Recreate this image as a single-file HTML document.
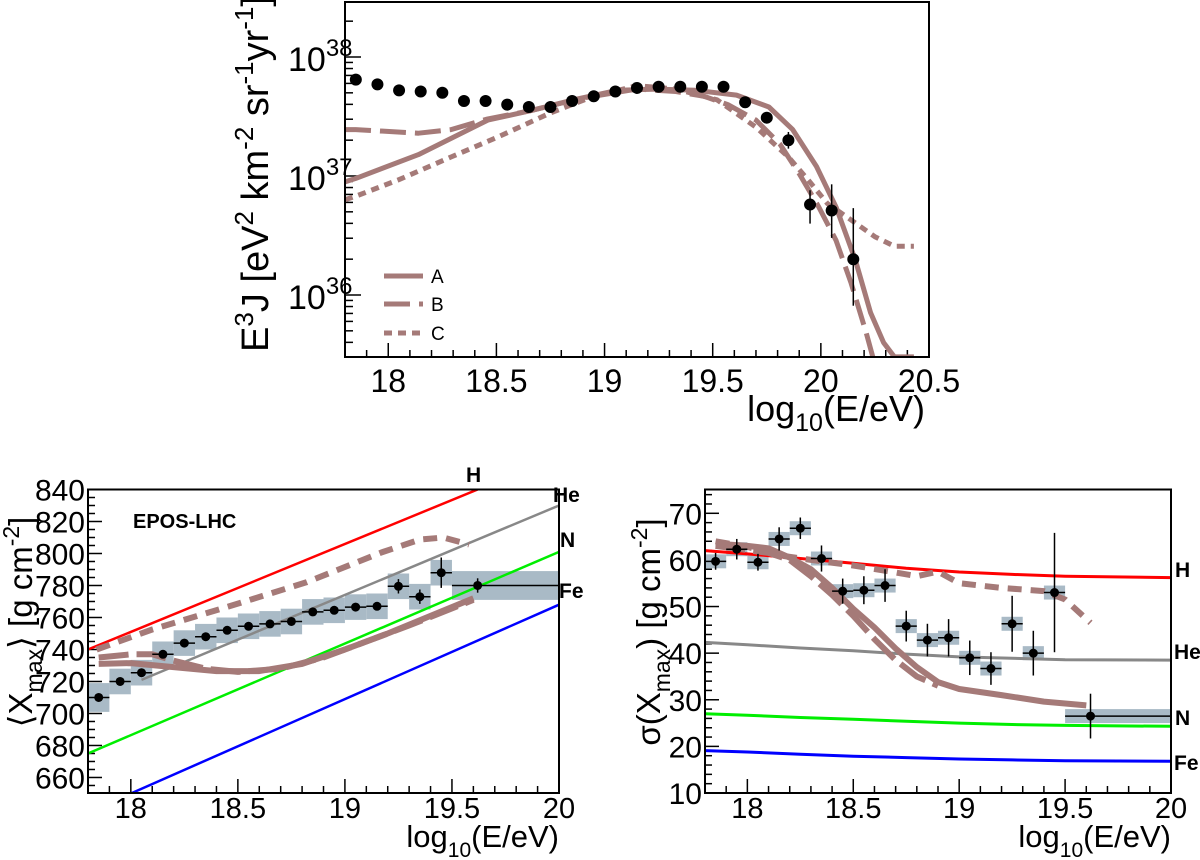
<!DOCTYPE html>
<html><head><meta charset="utf-8">
<style>
html,body{margin:0;padding:0;background:#fff;}
svg{display:block;font-family:"Liberation Sans",Arial,sans-serif;}
</style></head>
<body>
<svg id="fig" width="1200" height="860" viewBox="0 0 1200 860" xmlns="http://www.w3.org/2000/svg"></svg>
<script>
// ===== Top: spectrum data =====
const specE = [17.85,17.95,18.05,18.15,18.25,18.35,18.45,18.55,18.65,18.75,18.85,18.95,19.05,19.15,19.25,19.35,19.45,19.55,19.65,19.75,19.85,19.95,20.05,20.15];
const specLog = [37.81,37.77,37.72,37.71,37.70,37.63,37.63,37.60,37.58,37.58,37.63,37.67,37.71,37.74,37.75,37.75,37.75,37.75,37.62,37.49,37.30,36.76,36.71,36.30];
const specErrHi = [0,0,0,0,0,0,0,0,0,0,0,0,0,0,0,0,0,0,0,0,0.07,0.12,0.22,0.43];
const specErrLo = [0,0,0,0,0,0,0,0,0,0,0,0,0,0,0,0,0,0,0,0,0.07,0.16,0.23,0.39];
const modAE = [17.80,17.85,18.14,18.46,18.66,18.88,19.06,19.24,19.42,19.61,19.76,19.87,19.98,20.07,20.16,20.23,20.29,20.34,20.43];
const modAL = [36.95,36.98,37.18,37.47,37.55,37.65,37.72,37.73,37.72,37.68,37.58,37.39,37.08,36.74,36.29,35.85,35.60,35.48,35.48];
const modBE = [17.80,17.85,18.14,18.29,18.46,18.66,18.88,19.15,19.33,19.46,19.57,19.70,19.81,19.90,19.99,20.07,20.14,20.21,20.24];
const modBL = [37.39,37.39,37.36,37.39,37.48,37.55,37.65,37.73,37.71,37.67,37.60,37.47,37.27,37.02,36.74,36.46,36.10,35.68,35.48];
const modCE = [17.80,17.85,18.05,18.29,18.51,18.75,18.95,19.15,19.33,19.52,19.70,19.85,19.94,20.03,20.14,20.25,20.34,20.43];
const modCL = [36.80,36.83,36.97,37.16,37.33,37.53,37.67,37.76,37.73,37.64,37.41,37.16,36.97,36.77,36.63,36.49,36.41,36.41];
const topYTicks = [36,37,38];
const topXTicks = [18,18.5,19,19.5,20,20.5];

// ===== Bottom-left: <Xmax> =====
const xmE = [17.85,17.95,18.05,18.15,18.25,18.35,18.45,18.55,18.65,18.75,18.85,18.95,19.05,19.15,19.25,19.35,19.45,19.62];
const xmV = [710,720,725.5,737,744,748,752,754.5,756,757.5,763.5,764.5,766.5,767,779.5,773,788,780];
const xmErr = [2,2,2,2,2,2,2,2,2,2,2,2,2.5,2.5,4.5,4.5,9.5,4.5];
const xmSys = [9,8,8,8,8,8,8,8,8,8,8,8,8,8,8,8,8,9];
const xmH = [[17.8,740],[19.62,840]];
const xmHe = [[18.05,721],[20,830]];
const xmN = [[17.8,675],[20,801]];
const xmFe = [[18.0,650],[20,768]];
const xmAE = [17.85,18.0,18.2,18.4,18.6,18.8,19.0,19.2,19.4,19.6];
const xmAV = [731,731.5,729,726.5,726.5,731,740,750,761,772];
const xmBE = [17.85,18.0,18.1,18.2,18.35,18.5,18.7,18.9,19.1,19.3,19.6];
const xmBV = [735,737,737,733,728,726,728,735,745,755,771];
const xmCE = [17.84,18.10,18.46,18.82,19.17,19.35,19.46,19.58];
const xmCV = [740,752.5,767,782,800.6,808.7,810,805.6];
const xmYTicks = [660,680,700,720,740,760,780,800,820,840];
const botXTicks = [18,18.5,19,19.5,20];

// ===== Bottom-right: sigma(Xmax) =====
const sgE = [17.85,17.95,18.05,18.15,18.25,18.35,18.45,18.55,18.65,18.75,18.85,18.95,19.05,19.15,19.25,19.35,19.45,19.62];
const sgV = [59.7,62.3,59.5,64.5,66.8,60.3,53.3,53.5,54.5,45.8,42.8,43.3,39,36.7,46.3,40,53,26.5];
const sgErr = [1.8,2.2,1.8,2.5,2.3,2.8,2.7,3,3.5,3.3,3.5,4,3.7,3.5,6,4.8,12.8,4.8];
const sgSys = [1.5,1.5,1.5,1.5,1.5,1.5,1.5,1.5,1.5,1.5,1.5,1.5,1.5,1.5,1.5,1.5,1.5,1.5];
const sgGridE = [17.8,18.0,18.25,18.5,18.75,19.0,19.25,19.5,20.0];
const sgH = [62,61.3,60.3,59.3,58.2,57.4,56.9,56.5,56.2];
const sgHe = [42.3,41.8,41.1,40.5,39.8,39.2,38.9,38.6,38.5];
const sgN = [27,26.7,26.2,25.8,25.4,25,24.7,24.5,24.3];
const sgFe = [19.1,18.8,18.3,17.9,17.6,17.3,17.1,16.9,16.8];
const sgAE = [17.85,18.0,18.1,18.2,18.3,18.4,18.5,18.6,18.7,18.8,18.9,19.0,19.2,19.4,19.6];
const sgAV = [63.5,63,62.5,60.5,58,54,49.5,45.5,41,37,33.8,32.3,31,29.6,28.8];
const sgBE = [17.85,18.1,18.2,18.3,18.4,18.5,18.6,18.7,18.8,18.9];
const sgBV = [63,61.5,60,56.5,52.5,48,43,38.5,35,33];
const sgCE = [17.85,18.0,18.15,18.3,18.5,18.7,18.8,18.9,19.0,19.2,19.4,19.5,19.62];
const sgCV = [64,62.8,61,60,58.8,57.3,56.5,57.5,55,54,53.3,51.5,46.5];
const sgYTicks = [10,20,30,40,50,60,70];

const NS = "http://www.w3.org/2000/svg";
const svg = document.getElementById('fig');
const MODEL = "#a57a78";
function mk(tag, attrs, parent){
  const el = document.createElementNS(NS, tag);
  for (const k in attrs) el.setAttribute(k, attrs[k]);
  (parent||svg).appendChild(el);
  return el;
}
function lin(d0,d1,p0,p1){ return v => p0 + (v-d0)/(d1-d0)*(p1-p0); }
function pathD(xs, ys, fx, fy){ return xs.map((x,i)=>(i?'L':'M')+fx(x).toFixed(1)+','+fy(ys[i]).toFixed(1)).join(''); }

function frame(name, x0,y0,x1,y1){
  const r = mk('rect',{x:x0,y:y0,width:x1-x0,height:y1-y0,fill:'none',stroke:'#000','stroke-width':2});
  
  
}
function clip(id,x0,y0,x1,y1){
  const c = mk('clipPath',{id:id});
  mk('rect',{x:x0,y:y0,width:x1-x0,height:y1-y0},c);
}
function xTicks(fx, y1, lo, hi, major, minorStep, labels, fs, ly, name){
  const g = mk('g',{});
  
  
  for (let v = lo; v <= hi+1e-9; v += minorStep){
    const isMaj = major.some(m=>Math.abs(m-v)<1e-6);
    mk('line',{x1:fx(v),x2:fx(v),y1:y1,y2:y1-(isMaj?14:7),stroke:'#000','stroke-width':1.5},g);
  }
  major.forEach(m=>{
    const t = mk('text',{x:fx(m),y:ly,'font-size':fs,'text-anchor':'middle'},g);
    t.textContent = String(m);
  });
}
function curve(name, xs, ys, fx, fy, w, dash, color, clipId){
  const p = mk('path',{d:pathD(xs,ys,fx,fy),fill:'none',stroke:color,'stroke-width':w,'stroke-linejoin':'round','stroke-dasharray':dash||'none','clip-path':clipId?`url(#${clipId})`:''});
  
  
}

// ================= TOP PANEL =================
{
  const X0=345,X1=929,Y0=2,Y1=357;
  const fx = lin(17.8,20.5,X0,X1);
  const fy = v => 57 + (38 - v)*119;
  clip('ctop',X0,Y0,X1,Y1);
  const g = mk('g',{});
  
  
  for (let d=35; d<=38; d++){
    for (let k=1;k<=9;k++){
      const v = d + Math.log10(k);
      const y = fy(v);
      if (y<Y0||y>Y1) continue;
      mk('line',{x1:X0,x2:X0+(k===1?16:8),y1:y,y2:y,stroke:'#000','stroke-width':1.5},g);
    }
  }
  topYTicks.forEach(t=>{
    const tx = mk('text',{x:288,y:fy(t)+14,'font-size':34},g);
    tx.textContent='10';
    const sp = mk('tspan',{dy:-15,'font-size':24},tx);
    sp.textContent = String(t);
  });
  xTicks(fx,Y1,17.8,20.5,topXTicks,0.1,null,32,392,'top-x-axis');
  const yt = mk('text',{x:0,y:0,'font-size':38,'text-anchor':'middle',transform:'translate(268,174) rotate(-90)'});
  
  
  yt.innerHTML = 'E<tspan dy="-15" font-size="26">3</tspan><tspan dy="15">J [eV</tspan><tspan dy="-15" font-size="26">2</tspan><tspan dy="15"> km</tspan><tspan dy="-15" font-size="26">-2</tspan><tspan dy="15"> sr</tspan><tspan dy="-15" font-size="26">-1</tspan><tspan dy="15">yr</tspan><tspan dy="-15" font-size="26">-1</tspan><tspan dy="15">]</tspan>';
  const xt = mk('text',{x:925,y:421,'font-size':36,'text-anchor':'end'});
  
  
  xt.innerHTML = 'log<tspan dy="10" font-size="25">10</tspan><tspan dy="-10">(E/eV)</tspan>';
  curve('model-a-spectrum',modAE,modAL,fx,fy,5,null,MODEL,'ctop');
  curve('model-b-spectrum',modBE,modBL,fx,fy,5,'26 9',MODEL,'ctop');
  curve('model-c-spectrum',modCE,modCL,fx,fy,5,'8 6',MODEL,'ctop');
  specE.forEach((e,i)=>{
    if (specErrHi[i]>0){
      const l = mk('line',{x1:fx(e),x2:fx(e),y1:fy(specLog[i]+specErrHi[i]),y2:fy(specLog[i]-specErrLo[i]),stroke:'#000','stroke-width':1.5});
      
      
    }
    const c = mk('circle',{cx:fx(e),cy:fy(specLog[i]),r:6,fill:'#000'});
    
    
  });
  frame('top-plot-frame',X0,Y0,X1,Y1);
  const lg = mk('g',{});
  
  
  [['A','none',276],['B','26 9',304],['C','8 6',333]].forEach(([lab,da,y])=>{
    mk('line',{x1:384,x2:423,y1:y,y2:y,stroke:MODEL,'stroke-width':5,'stroke-dasharray':da},lg);
    const t = mk('text',{x:431,y:y+7,'font-size':19},lg);
    t.textContent = lab;
  });
}

// ================= BOTTOM LEFT =================
{
  const X0=88,X1=559,Y0=489.5,Y1=793;
  const fx = lin(17.8,20,X0,X1);
  const fy = lin(840,650.3,Y0,Y1);
  clip('cbl',X0,Y0,X1,Y1);
  const g = mk('g',{});
  
  
  for (let v=655; v<=840; v+=5){
    const maj = v%20===0;
    mk('line',{x1:X0,x2:X0+(maj?14:7),y1:fy(v),y2:fy(v),stroke:'#000','stroke-width':1.5},g);
  }
  xmYTicks.forEach(t=>{ const tx=mk('text',{x:X0-3,y:fy(t)+11,'font-size':30,'text-anchor':'end'},g); tx.textContent=String(t); });
  xTicks(fx,Y1,17.8,20,botXTicks,0.1,null,29,818,'xmax-x-axis');
  const yt = mk('text',{x:0,y:0,'font-size':33,'text-anchor':'middle',transform:'translate(32,622) rotate(-90)'});
  
  
  yt.innerHTML = '⟨X<tspan dy="10" font-size="23">max</tspan><tspan dy="-10">⟩ [g cm</tspan><tspan dy="-13" font-size="23">-2</tspan><tspan dy="13">]</tspan>';
  const xt = mk('text',{x:559,y:847,'font-size':31,'text-anchor':'end'});
  
  
  xt.innerHTML = 'log<tspan dy="10" font-size="21">10</tspan><tspan dy="-10">(E/eV)</tspan>';
  const ep = mk('text',{x:133,y:528,'font-size':20,'font-weight':'bold'});
  
  
  ep.textContent = 'EPOS-LHC';
  xmE.forEach((e,i)=>{
    const last = i===xmE.length-1;
    const xa = last?19.5:e-0.05, xb = last?20:e+0.05;
    const b = mk('rect',{x:fx(xa),y:fy(xmV[i]+xmSys[i]),width:fx(xb)-fx(xa),height:fy(xmV[i]-xmSys[i])-fy(xmV[i]+xmSys[i]),fill:'#a9bac6','clip-path':'url(#cbl)'});
    
    
  });
  [['h-line',xmH,'#f00'],['he-line',xmHe,'#888'],['n-line',xmN,'#0e0'],['fe-line',xmFe,'#00f']].forEach(([n,pts,c])=>{
    curve('xmax-'+n,pts.map(p=>p[0]),pts.map(p=>p[1]),fx,fy,2.5,null,c,'cbl');
  });
  curve('xmax-model-c',xmCE,xmCV,fx,fy,6,'14 9',MODEL,'cbl');
  curve('xmax-model-a',xmAE,xmAV,fx,fy,6,null,MODEL,'cbl');
  curve('xmax-model-b',xmBE,xmBV,fx,fy,6,'30 8',MODEL,'cbl');
  xmE.forEach((e,i)=>{
    const last = i===xmE.length-1;
    const g2 = mk('g',{});
    
    
    const xa = last?19.5:e-0.05, xb = last?20:e+0.05;
    mk('line',{x1:fx(xa),x2:fx(xb),y1:fy(xmV[i]),y2:fy(xmV[i]),stroke:'#000','stroke-width':1.5},g2);
    mk('line',{x1:fx(e),x2:fx(e),y1:fy(xmV[i]+xmErr[i]),y2:fy(xmV[i]-xmErr[i]),stroke:'#000','stroke-width':1.5},g2);
    mk('circle',{cx:fx(e),cy:fy(xmV[i]),r:4.5,fill:'#000'},g2);
  });
  frame('xmax-plot-frame',X0,Y0,X1,Y1);
  [['H',466,482],['He',553,502],['N',560,547],['Fe',559,598]].forEach(([t,x,y])=>{
    const l = mk('text',{x:x,y:y,'font-size':21,'font-weight':'bold'});
    
    
    l.textContent = t;
  });
}

// ================= BOTTOM RIGHT =================
{
  const X0=705,X1=1171,Y0=489.5,Y1=793;
  const fx = lin(17.8,20,X0,X1);
  const fy = lin(10,70,793,513.3);
  clip('cbr',X0,Y0,X1,Y1);
  const g = mk('g',{});
  
  
  for (let v=10; v<=75; v+=2){
    const maj = v%10===0;
    mk('line',{x1:X0,x2:X0+(maj?14:7),y1:fy(v),y2:fy(v),stroke:'#000','stroke-width':1.5},g);
  }
  sgYTicks.forEach(t=>{ const tx=mk('text',{x:X0-3,y:fy(t)+11,'font-size':30,'text-anchor':'end'},g); tx.textContent=String(t); });
  xTicks(fx,Y1,17.8,20,botXTicks,0.1,null,29,818,'sigma-x-axis');
  const yt = mk('text',{x:0,y:0,'font-size':33,'text-anchor':'middle',transform:'translate(660,632) rotate(-90)'});
  
  
  yt.innerHTML = 'σ(X<tspan dy="10" font-size="23">max</tspan><tspan dy="-10">) [g cm</tspan><tspan dy="-13" font-size="23">-2</tspan><tspan dy="13">]</tspan>';
  const xt = mk('text',{x:1171,y:847,'font-size':31,'text-anchor':'end'});
  
  
  xt.innerHTML = 'log<tspan dy="10" font-size="21">10</tspan><tspan dy="-10">(E/eV)</tspan>';
  sgE.forEach((e,i)=>{
    const last = i===sgE.length-1;
    const xa = last?19.5:e-0.05, xb = last?20:e+0.05;
    const b = mk('rect',{x:fx(xa),y:fy(sgV[i]+sgSys[i]),width:fx(xb)-fx(xa),height:fy(sgV[i]-sgSys[i])-fy(sgV[i]+sgSys[i]),fill:'#a9bac6','clip-path':'url(#cbr)'});
    
    
  });
  [['h-line',sgH,'#f00'],['he-line',sgHe,'#888'],['n-line',sgN,'#0e0'],['fe-line',sgFe,'#00f']].forEach(([n,vals,c])=>{
    curve('sigma-'+n,sgGridE,vals,fx,fy,3,null,c,'cbr');
  });
  curve('sigma-model-c',sgCE,sgCV,fx,fy,6,'14 9',MODEL,'cbr');
  curve('sigma-model-b',sgBE,sgBV,fx,fy,6,'30 8',MODEL,'cbr');
  curve('sigma-model-a',sgAE,sgAV,fx,fy,6,null,MODEL,'cbr');
  sgE.forEach((e,i)=>{
    const last = i===sgE.length-1;
    const g2 = mk('g',{});
    
    
    const xa = last?19.5:e-0.05, xb = last?20:e+0.05;
    mk('line',{x1:fx(xa),x2:fx(xb),y1:fy(sgV[i]),y2:fy(sgV[i]),stroke:'#000','stroke-width':1.5},g2);
    mk('line',{x1:fx(e),x2:fx(e),y1:fy(sgV[i]+sgErr[i]),y2:fy(sgV[i]-sgErr[i]),stroke:'#000','stroke-width':1.5},g2);
    mk('circle',{cx:fx(e),cy:fy(sgV[i]),r:4.5,fill:'#000'},g2);
  });
  frame('sigma-plot-frame',X0,Y0,X1,Y1);
  [['H',1175,577],['He',1174,659],['N',1175,725],['Fe',1174,770]].forEach(([t,x,y])=>{
    const l = mk('text',{x:x,y:y,'font-size':21,'font-weight':'bold'});
    
    
    l.textContent = t;
  });
}
</script>
</body></html>
